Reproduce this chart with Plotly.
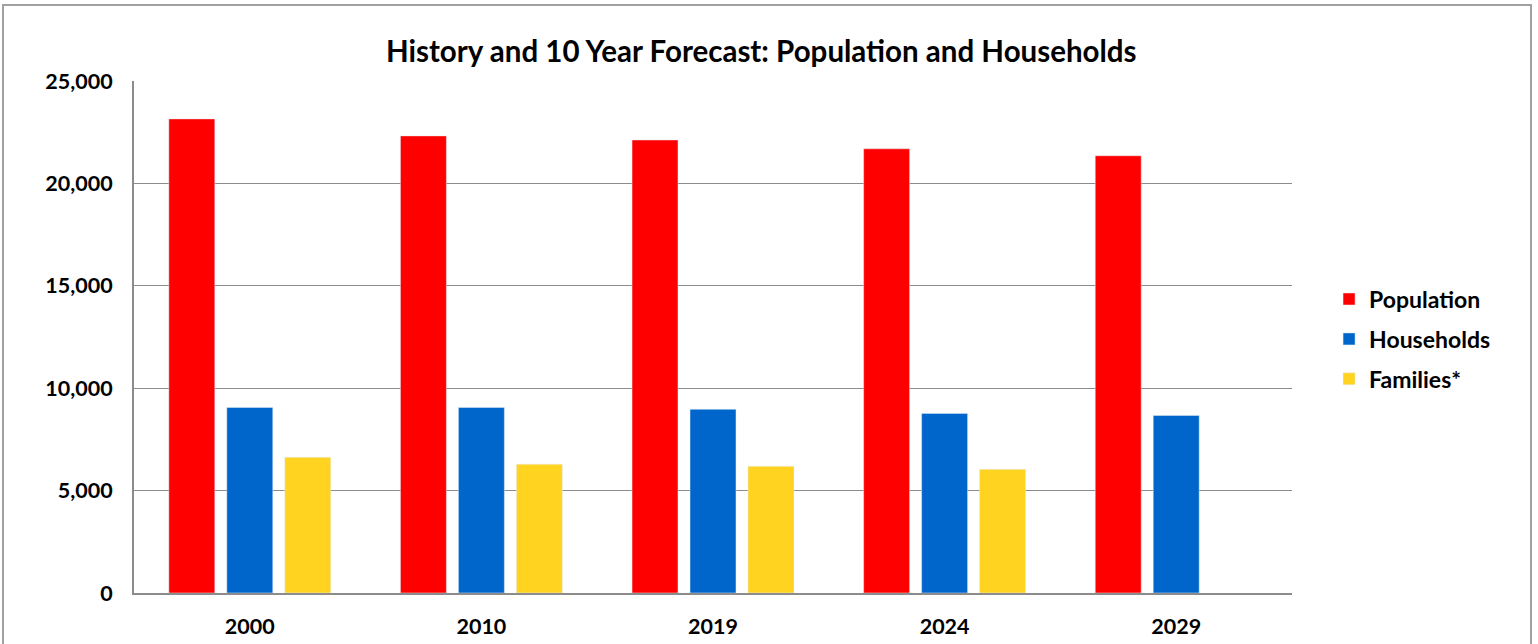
import plotly.graph_objects as go

years = ["2000", "2010", "2019", "2024", "2029"]
population = [23150, 22320, 22120, 21690, 21350]
households = [9060, 9060, 8970, 8770, 8670]
families = [6630, 6290, 6190, 6040, None]

font_family = "Lato, 'Open Sans', sans-serif"

fig = go.Figure()
fig.add_trace(go.Bar(name="<b>Population</b>", x=years, y=population, marker_color="#FF0000", legendgroup="a"))
fig.add_trace(go.Bar(name="<b>Households</b>", x=years, y=households, marker_color="#0066CC", legendgroup="b"))
fig.add_trace(go.Bar(name="<b>Families*</b>", x=years, y=families, marker_color="#FFD320", legendgroup="c"))

fig.update_layout(
    width=1538, height=644,
    paper_bgcolor="white", plot_bgcolor="white",
    margin=dict(l=134, r=246, t=81, b=51),
    barmode="group", bargap=0.249, bargroupgap=0.207,
    font=dict(family=font_family, color="black"),
    title=dict(text="<b>History and 10 Year Forecast: Population and Households</b>",
               x=0.495, xanchor="center", y=0.919, yanchor="middle",
               xref="container", yref="container",
               font=dict(size=29.5, family=font_family, color="black")),
    legend=dict(x=1.032, y=0.496, xanchor="left", yanchor="middle",
                font=dict(size=23, family=font_family), tracegroupgap=7,
                traceorder="grouped",
                itemwidth=30, bgcolor="rgba(0,0,0,0)"),
    showlegend=True,
    shapes=[dict(type="rect", xref="paper", yref="paper",
                 x0=-0.1131, x1=1.2064, y0=-0.2, y1=1.1484,
                 line=dict(color="#A0A0A0", width=2), layer="below")],
)
fig.update_xaxes(showline=True, linecolor="#8C8C8C", linewidth=2, ticks="",
                 tickfont=dict(size=21.5, family=font_family), ticklabelstandoff=13,
                 tickprefix="<b>", ticksuffix="</b>", automargin=False)
fig.update_yaxes(range=[0, 25000], dtick=5000, showgrid=True, gridcolor="#8C8C8C", gridwidth=1,
                 showline=True, linecolor="#8C8C8C", linewidth=2, ticks="",
                 tickformat=",d", tickfont=dict(size=21.5, family=font_family),
                 tickprefix="<b>", ticksuffix="</b>", ticklabelstandoff=15, zeroline=False,
                 automargin=False)

fig.write_html("out.html", config={"displayModeBar": False},
               post_script="document.body.style.margin='0';document.body.style.overflow='hidden';")
